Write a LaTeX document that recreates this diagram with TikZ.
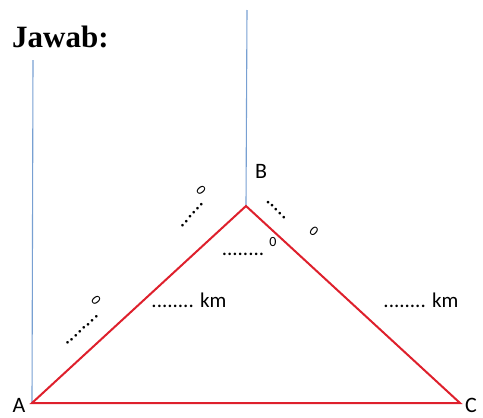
\documentclass[tikz,border=0pt]{standalone}
\usepackage{fontspec}
\setmainfont{Carlito}
\newfontfamily\headfont{Liberation Serif}
\usepackage{xcolor}
\usepackage{tikz}
\usetikzlibrary{positioning}

\definecolor{sidered}{RGB}{222,32,44}
\definecolor{northblue}{RGB}{120,160,210}

\begin{document}
\begin{tikzpicture}[
        x=1pt, y=-1pt,
        side/.style={draw=sidered, line width=2pt},
        north/.style={draw=northblue, line width=1.1pt},
        vertex/.style={font=\fontsize{22}{22}\selectfont, inner sep=0pt},
        blank/.style={font=\fontsize{21}{21}\selectfont, inner sep=0pt},
        degdots/.style={font=\fontsize{22}{22}\selectfont, inner sep=0pt},
        degsign/.style={font=\fontsize{14}{14}\selectfont, inner sep=0pt}
    ]

    \useasboundingbox (0,0) rectangle (483,418);

    \node (title) [anchor=west, inner sep=0pt, font=\headfont\bfseries\fontsize{31}{31}\selectfont] at (12,37) {Jawab:};

    % triangle
    \coordinate (A) at (32,403);
    \coordinate (B) at (246,206);
    \coordinate (C) at (460,403);
    \coordinate (northA) at (33,60);
    \coordinate (northB) at (247,10);

    \draw [north] (A) -- (northA);
    \draw [north] (B) -- (northB);
    \draw [side] (A) -- (B) -- (C) -- cycle;

    \node (labA) [vertex] at (19,405) {A};
    \node (labB) [vertex] at (261,171) {B};
    \node (labC) [vertex] at (471,405) {C};

    % distances
    \node (distAB) [blank] at (189,300) {........ km};
    \node (distBC) [blank] at (421,300) {........ km};

    % bearings
    \node (angA) [degdots, rotate=42] at (82,330) {........};
    \node (degA) [degsign, rotate=-50] at (96,300) {0};
    \node (angB) [degdots, rotate=48] at (192,215) {......};
    \node (degB) [degsign, rotate=-50] at (201,190) {0};
    \node (angBC) [degdots, rotate=-45] at (276,210) {.....};
    \node (degBC) [degsign, rotate=-40] at (314,231) {0};
    \node (angAB) [blank] at (243,254) {........};
    \node (degAB) [degsign] at (273,242) {0};

    \end{tikzpicture}
\end{document}
